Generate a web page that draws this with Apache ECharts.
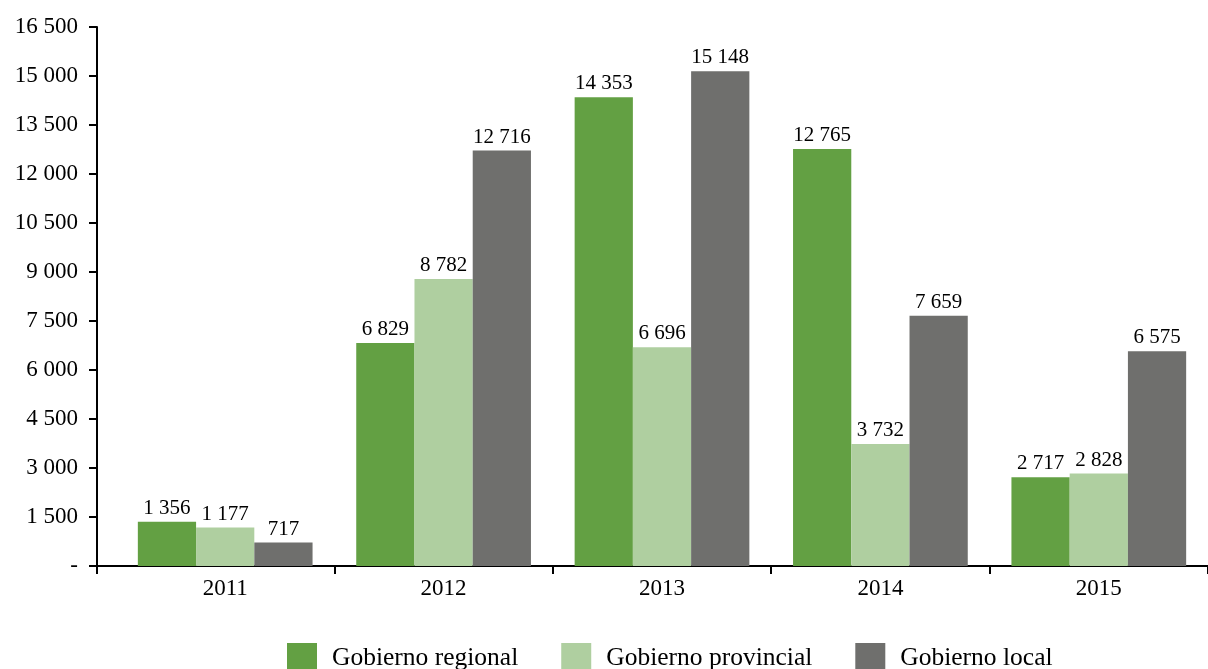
<!DOCTYPE html>
<html>
<head>
<meta charset="utf-8">
<script src="https://cdn.jsdelivr.net/npm/echarts@6/dist/echarts.min.js"></script>
<style>
  html, body { margin: 0; padding: 0; background: #fff; }
  #chart { width: 1208px; height: 669px; }
</style>
</head>
<body>
<div id="chart"></div>
<script>
// Transferencias por nivel de gobierno, 2011-2015
const years = ['2011', '2012', '2013', '2014', '2015'];
const seriesNames = ['Gobierno regional', 'Gobierno provincial', 'Gobierno local'];
const regional = [1356, 6829, 14353, 12765, 2717];
const provincial = [1177, 8782, 6696, 3732, 2828];
const local = [717, 12716, 15148, 7659, 6575];
const colors = ['#63a043', '#afcfa0', '#6f6f6d'];

const FONT = '"Liberation Serif", "Times New Roman", serif';

function fmt(v) {
  if (v === 0) return '-';
  return String(Math.round(v)).replace(/\B(?=(\d{3})+(?!\d))/g, ' ');
}

const chart = echarts.init(document.getElementById('chart'));

const values = [regional, provincial, local];
const series = seriesNames.map((name, i) => ({
  name: name,
  type: 'bar',
  data: values[i],
  barGap: '0%',
  barCategoryGap: '20%',
  itemStyle: { color: colors[i] },
  label: {
    show: true,
    position: 'top',
    distance: 3,
    color: '#000',
    fontFamily: FONT,
    fontSize: 21,
    formatter: p => fmt(p.value)
  }
}));

chart.setOption({
  animation: false,
  textStyle: { fontFamily: FONT },
  grid: { left: 116, right: 0, top: 27, bottom: 103 },
  legend: {
    data: seriesNames,
    left: 287,
    top: 643,
    padding: 0,
    itemWidth: 30,
    itemHeight: 30,
    itemGap: 43,
    icon: 'rect',
    textStyle: { fontFamily: FONT, fontSize: 25.5, color: '#000', padding: [0, 0, 0, 10] }
  },
  xAxis: {
    type: 'category',
    data: years,
    axisLine: { lineStyle: { color: '#000', width: 2 } },
    axisTick: {
      show: true,
      length: 8,
      interval: (index) => index !== 0,
      lineStyle: { color: '#000', width: 2 }
    },
    axisLabel: { color: '#000', fontFamily: FONT, fontSize: 23, margin: 11 }
  },
  yAxis: {
    type: 'value',
    min: 0,
    max: 16500,
    interval: 1500,
    offset: 19,
    axisLine: { show: true, lineStyle: { color: '#000', width: 2 } },
    axisTick: { show: true, length: 8, lineStyle: { color: '#000', width: 2 } },
    splitLine: { show: false },
    axisLabel: { color: '#000', fontFamily: FONT, fontSize: 23, margin: 19, formatter: v => fmt(v) }
  },
  series: series
});

// Join the offset value axis to the category axis baseline
const origin = chart.convertToPixel({ gridIndex: 0 }, [0, 0]);
const plotLeft = 116;
const axisX = plotLeft - 19;
chart.setOption({
  graphic: [
    {
      type: 'line',
      shape: { x1: axisX, y1: origin[1], x2: plotLeft, y2: origin[1] },
      style: { stroke: '#000', lineWidth: 2 }
    },
    {
      type: 'line',
      shape: { x1: axisX, y1: origin[1], x2: axisX, y2: origin[1] + 8 },
      style: { stroke: '#000', lineWidth: 2 }
    }
  ]
});
</script>
</body>
</html>
